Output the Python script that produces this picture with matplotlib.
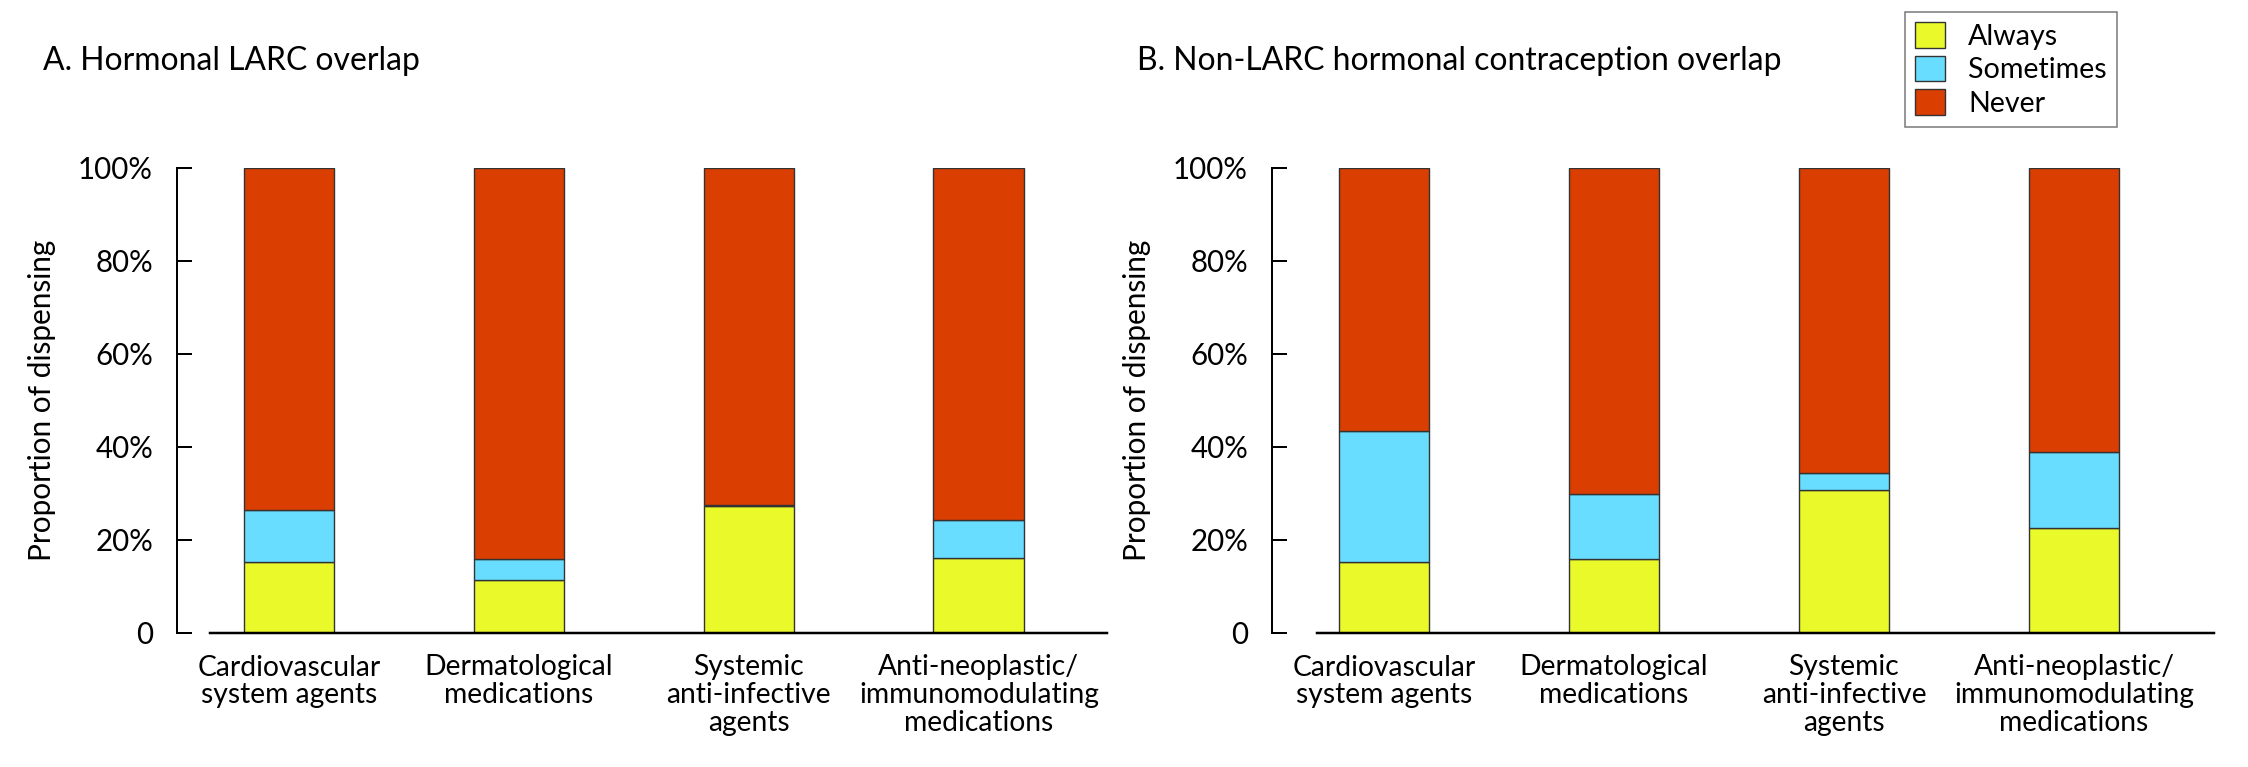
import numpy as np
import matplotlib
matplotlib.use("Agg")
import matplotlib.pyplot as plt
from matplotlib.text import Text

# ---------------- data ----------------
categories = ["Cardiovascular\nsystem agents", "Dermatological\nmedications",
              "Systemic\nanti-infective\nagents", "Anti-neoplastic/\nimmunomodulating\nmedications"]
series_names = ["Always", "Sometimes", "Never"]

a_always = [15.2, 11.4, 27.2, 16.0]
a_sometimes = [11.1, 4.5, 0.3, 8.2]
a_never = [100 - x - y for x, y in zip(a_always, a_sometimes)]

b_always = [15.1, 15.8, 30.7, 22.5]
b_sometimes = [28.3, 14.1, 3.7, 16.3]
b_never = [100 - x - y for x, y in zip(b_always, b_sometimes)]

ytick_vals = [0, 20, 40, 60, 80, 100]
ytick_labels = ["0", "20%", "40%", "60%", "80%", "100%"]
title_a = "A. Hormonal LARC overlap"
title_b = "B. Non-LARC hormonal contraception overlap"
ylabel = "Proportion of dispensing"

colors = ["#E9F92A", "#69DDFF", "#DA3E00"]
FONT = ["Lato", "DejaVu Sans"]

W, H, DPI = 2248, 767, 100
plt.rcParams["font.family"] = FONT
fig = plt.figure(figsize=(W / DPI, H / DPI), dpi=DPI)
renderer = fig.canvas.get_renderer()


def fit_size(s, target_px):
    t = Text(0, 0, s, fontsize=20, family=FONT)
    t.set_figure(fig)
    w = t.get_window_extent(renderer).width
    return 20 * target_px / w


fs_title = fit_size(title_a, 377)
fs_ylab = fit_size(ylabel, 322)
fs_ytick = fit_size("100%", 75)
fs_xtick = fit_size("Cardiovascular", 183)
fs_leg = fit_size("Sometimes", 139)

px2pt = 72 / DPI


def make_panel(rect, xlim, xbounds, always, sometimes, never, title, title_x):
    ax = fig.add_axes(rect)
    x = np.arange(len(categories))
    bw = 0.395
    bars = []
    bottom = np.zeros(len(x))
    for vals, c, name in zip([always, sometimes, never], colors, series_names):
        b = ax.bar(x, vals, bw, bottom=bottom, color=c, edgecolor="#333333",
                   linewidth=1.0, label=name)
        bars.append(b)
        bottom += np.array(vals)
    ax.set_xlim(*xlim)
    ax.set_ylim(0, 100)
    for s in ["top", "right"]:
        ax.spines[s].set_visible(False)
    ax.spines["left"].set_bounds(0, 100)
    ax.spines["left"].set_linewidth(2 * px2pt)
    ax.spines["bottom"].set_bounds(*xbounds)
    ax.spines["bottom"].set_linewidth(2.5 * px2pt)
    ax.set_yticks(ytick_vals)
    ax.set_yticklabels(ytick_labels, fontsize=fs_ytick)
    ax.tick_params(axis="y", direction="in", length=15 * px2pt, width=2 * px2pt,
                   pad=24 * px2pt)
    ax.set_xticks(x)
    ax.set_xticklabels(categories, fontsize=fs_xtick, linespacing=1.08)
    ax.tick_params(axis="x", length=0, pad=22 * px2pt)
    ax.set_ylabel(ylabel, fontsize=fs_ylab, labelpad=22 * px2pt)
    fig.text(title_x, 1 - 61 / H, title, fontsize=fs_title, ha="left", va="center")
    return ax, bars


bot = 1 - 632.5 / H
top = 1 - 168 / H
axA, _ = make_panel([177 / W, bot, (1107 - 177) / W, top - bot], (-0.487, 3.557),
                    (-0.343, 3.557), a_always, a_sometimes, a_never, title_a, 43 / W)
axB, barsB = make_panel([1272 / W, bot, (2214 - 1272) / W, top - bot], (-0.487, 3.609),
                        (-0.29, 3.609), b_always, b_sometimes, b_never, title_b, 1137 / W)

leg = fig.legend(handles=barsB, labels=series_names, loc="upper left",
                 bbox_to_anchor=(1905 / W, 1 - 12 / H), fontsize=fs_leg,
                 frameon=True, fancybox=False, edgecolor="#555555",
                 handlelength=1.04, handleheight=1.0, handletextpad=0.8,
                 borderpad=0.36, labelspacing=0.2, borderaxespad=0)
leg.get_frame().set_linewidth(1.5 * px2pt)

fig.savefig("out.png", dpi=DPI, facecolor="white")
